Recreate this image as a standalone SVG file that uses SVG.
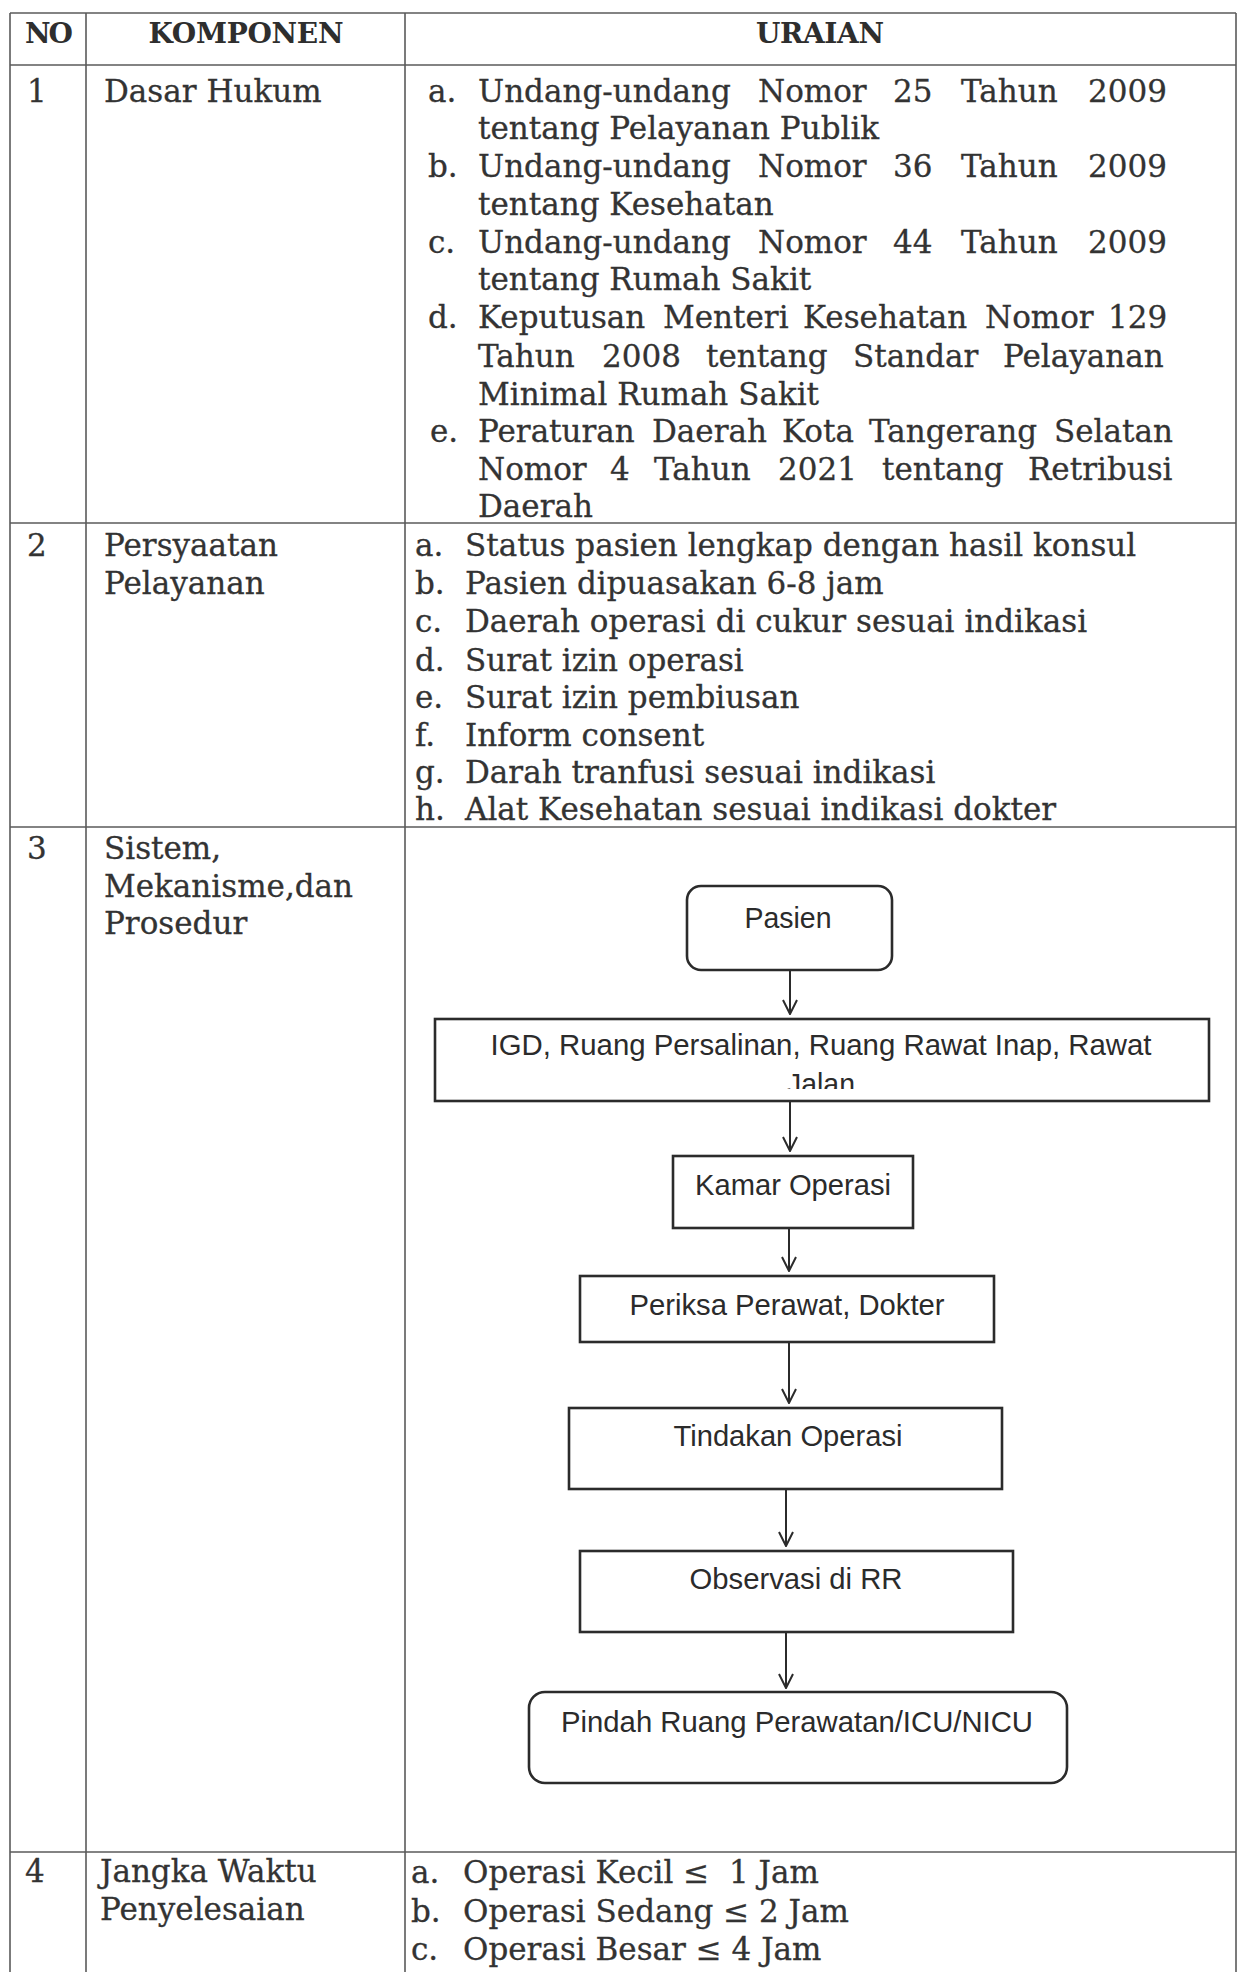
<svg xmlns="http://www.w3.org/2000/svg" width="1241" height="1972" viewBox="0 0 1241 1972">
<style>
.grid{stroke:#5a5a5a;stroke-width:1.6;fill:none}
.t{font-family:"DejaVu Serif","Liberation Serif",serif;font-size:31px;fill:#333;stroke:#333;stroke-width:0.3}
.h{font-family:"DejaVu Serif","Liberation Serif",serif;font-size:28px;font-weight:bold;fill:#2e2e2e;text-anchor:middle}
.box{fill:#fff;stroke:#2b2b2b;stroke-width:2.6}
.ft{font-family:"Liberation Sans",Arial,sans-serif;font-size:29px;fill:#2b2b2b;text-anchor:middle}
.conn{stroke:#2b2b2b;stroke-width:2;fill:none;marker-end:url(#arr)}
</style>
<defs>
<marker id="arr" markerUnits="userSpaceOnUse" viewBox="0 0 16 16" refX="15" refY="8" markerWidth="16" markerHeight="16" orient="auto">
<path d="M1,1 L15,8 L1,15" fill="none" stroke="#2b2b2b" stroke-width="2"/>
</marker>
<clipPath id="igdclip"><rect x="435" y="1019" width="774" height="70"/></clipPath>
</defs>
<rect x="0" y="0" width="1241" height="1972" fill="#fff"/>

<g id="table-grid">
<line class="grid" x1="10" y1="13" x2="1236" y2="13"/>
<line class="grid" x1="10" y1="65" x2="1236" y2="65"/>
<line class="grid" x1="10" y1="523" x2="1236" y2="523"/>
<line class="grid" x1="10" y1="827" x2="1236" y2="827"/>
<line class="grid" x1="10" y1="1852" x2="1236" y2="1852"/>
<line class="grid" x1="10" y1="13" x2="10" y2="1972"/>
<line class="grid" x1="86" y1="13" x2="86" y2="1972"/>
<line class="grid" x1="405" y1="13" x2="405" y2="1972"/>
<line class="grid" x1="1236" y1="13" x2="1236" y2="1972"/>
</g>

<g id="header">
<text class="h" x="49" y="43" textLength="48">NO</text>
<text class="h" x="246" y="43" textLength="195">KOMPONEN</text>
<text class="h" x="820" y="43" textLength="128">URAIAN</text>
</g>

<g id="row1">
<text class="t" x="27" y="102">1</text>
<text class="t" x="104" y="102">Dasar Hukum</text>
<text class="t" y="102"><tspan x="428">a. </tspan><tspan x="478">Undang-undang </tspan><tspan x="758">Nomor </tspan><tspan x="893">25 </tspan><tspan x="961">Tahun </tspan><tspan x="1088">2009</tspan></text>
<text class="t" x="478" y="139">tentang Pelayanan Publik</text>
<text class="t" y="177"><tspan x="428">b. </tspan><tspan x="478">Undang-undang </tspan><tspan x="758">Nomor </tspan><tspan x="893">36 </tspan><tspan x="961">Tahun </tspan><tspan x="1088">2009</tspan></text>
<text class="t" x="478" y="215">tentang Kesehatan</text>
<text class="t" y="253"><tspan x="428">c. </tspan><tspan x="478">Undang-undang </tspan><tspan x="758">Nomor </tspan><tspan x="893">44 </tspan><tspan x="961">Tahun </tspan><tspan x="1088">2009</tspan></text>
<text class="t" x="478" y="290">tentang Rumah Sakit</text>
<text class="t" y="328"><tspan x="428">d. </tspan><tspan x="478">Keputusan </tspan><tspan x="663">Menteri </tspan><tspan x="803">Kesehatan </tspan><tspan x="985">Nomor </tspan><tspan x="1108">129</tspan></text>
<text class="t" y="367"><tspan x="478">Tahun </tspan><tspan x="602">2008 </tspan><tspan x="706">tentang </tspan><tspan x="853">Standar </tspan><tspan x="1003">Pelayanan</tspan></text>
<text class="t" x="478" y="405">Minimal Rumah Sakit</text>
<text class="t" y="442"><tspan x="430">e. </tspan><tspan x="478">Peraturan </tspan><tspan x="652">Daerah </tspan><tspan x="782">Kota </tspan><tspan x="869">Tangerang </tspan><tspan x="1054">Selatan</tspan></text>
<text class="t" y="480"><tspan x="478">Nomor </tspan><tspan x="610">4 </tspan><tspan x="654">Tahun </tspan><tspan x="778">2021 </tspan><tspan x="882">tentang </tspan><tspan x="1028">Retribusi</tspan></text>
<text class="t" x="478" y="517">Daerah</text>
</g>

<g id="row2">
<text class="t" x="27" y="556">2</text>
<text class="t" x="104" y="556">Persyaatan</text>
<text class="t" x="104" y="594">Pelayanan</text>
<text class="t" y="556"><tspan x="415">a. </tspan><tspan x="465">Status pasien lengkap dengan hasil konsul</tspan></text>
<text class="t" y="594"><tspan x="415">b. </tspan><tspan x="465">Pasien dipuasakan 6-8 jam</tspan></text>
<text class="t" y="632"><tspan x="415">c. </tspan><tspan x="465">Daerah operasi di cukur sesuai indikasi</tspan></text>
<text class="t" y="671"><tspan x="415">d. </tspan><tspan x="465">Surat izin operasi</tspan></text>
<text class="t" y="708"><tspan x="415">e. </tspan><tspan x="465">Surat izin pembiusan</tspan></text>
<text class="t" y="746"><tspan x="415">f. </tspan><tspan x="465">Inform consent</tspan></text>
<text class="t" y="783"><tspan x="415">g. </tspan><tspan x="465">Darah tranfusi sesuai indikasi</tspan></text>
<text class="t" y="820"><tspan x="415">h. </tspan><tspan x="465">Alat Kesehatan sesuai indikasi dokter</tspan></text>
</g>

<g id="row3">
<text class="t" x="27" y="859">3</text>
<text class="t" x="104" y="859">Sistem,</text>
<text class="t" x="104" y="897">Mekanisme,dan</text>
<text class="t" x="104" y="934">Prosedur</text>
</g>

<g id="row4">
<text class="t" x="25" y="1882">4</text>
<text class="t" x="100" y="1882">Jangka Waktu</text>
<text class="t" x="100" y="1920">Penyelesaian</text>
<text class="t" y="1883" xml:space="preserve"><tspan x="411">a. </tspan><tspan x="463">Operasi Kecil ≤  1 Jam</tspan></text>
<text class="t" y="1922"><tspan x="411">b. </tspan><tspan x="463">Operasi Sedang ≤ 2 Jam</tspan></text>
<text class="t" y="1960"><tspan x="411">c. </tspan><tspan x="463">Operasi Besar ≤ 4 Jam</tspan></text>
</g>

<g id="connectors">
<line class="conn" x1="790" y1="970" x2="790" y2="1014"/>
<line class="conn" x1="790" y1="1102" x2="790" y2="1151"/>
<line class="conn" x1="789" y1="1229" x2="789" y2="1271"/>
<line class="conn" x1="789" y1="1343" x2="789" y2="1403"/>
<line class="conn" x1="786" y1="1490" x2="786" y2="1546"/>
<line class="conn" x1="786" y1="1633" x2="786" y2="1688"/>
</g>

<g id="node-pasien">
<rect class="box" x="687" y="886" width="205" height="84" rx="14"/>
<text class="ft" x="788" y="928" textLength="87" lengthAdjust="spacingAndGlyphs">Pasien</text>
</g>
<g id="node-igd">
<rect class="box" x="435" y="1019" width="774" height="82"/>
<text class="ft" x="821" y="1055" textLength="661" lengthAdjust="spacingAndGlyphs">IGD, Ruang Persalinan, Ruang Rawat Inap, Rawat</text>
<text class="ft" x="821" y="1094" textLength="68" lengthAdjust="spacingAndGlyphs" clip-path="url(#igdclip)">Jalan</text>
</g>
<g id="node-kamar">
<rect class="box" x="673" y="1156" width="240" height="72"/>
<text class="ft" x="793" y="1195" textLength="196" lengthAdjust="spacingAndGlyphs">Kamar Operasi</text>
</g>
<g id="node-periksa">
<rect class="box" x="580" y="1276" width="414" height="66"/>
<text class="ft" x="787" y="1315" textLength="315" lengthAdjust="spacingAndGlyphs">Periksa Perawat, Dokter</text>
</g>
<g id="node-tindakan">
<rect class="box" x="569" y="1408" width="433" height="81"/>
<text class="ft" x="788" y="1446" textLength="229" lengthAdjust="spacingAndGlyphs">Tindakan Operasi</text>
</g>
<g id="node-observasi">
<rect class="box" x="580" y="1551" width="433" height="81"/>
<text class="ft" x="796" y="1589" textLength="213" lengthAdjust="spacingAndGlyphs">Observasi di RR</text>
</g>
<g id="node-pindah">
<rect class="box" x="529" y="1692" width="538" height="91" rx="16"/>
<text class="ft" x="797" y="1732" textLength="472" lengthAdjust="spacingAndGlyphs">Pindah Ruang Perawatan/ICU/NICU</text>
</g>
</svg>
